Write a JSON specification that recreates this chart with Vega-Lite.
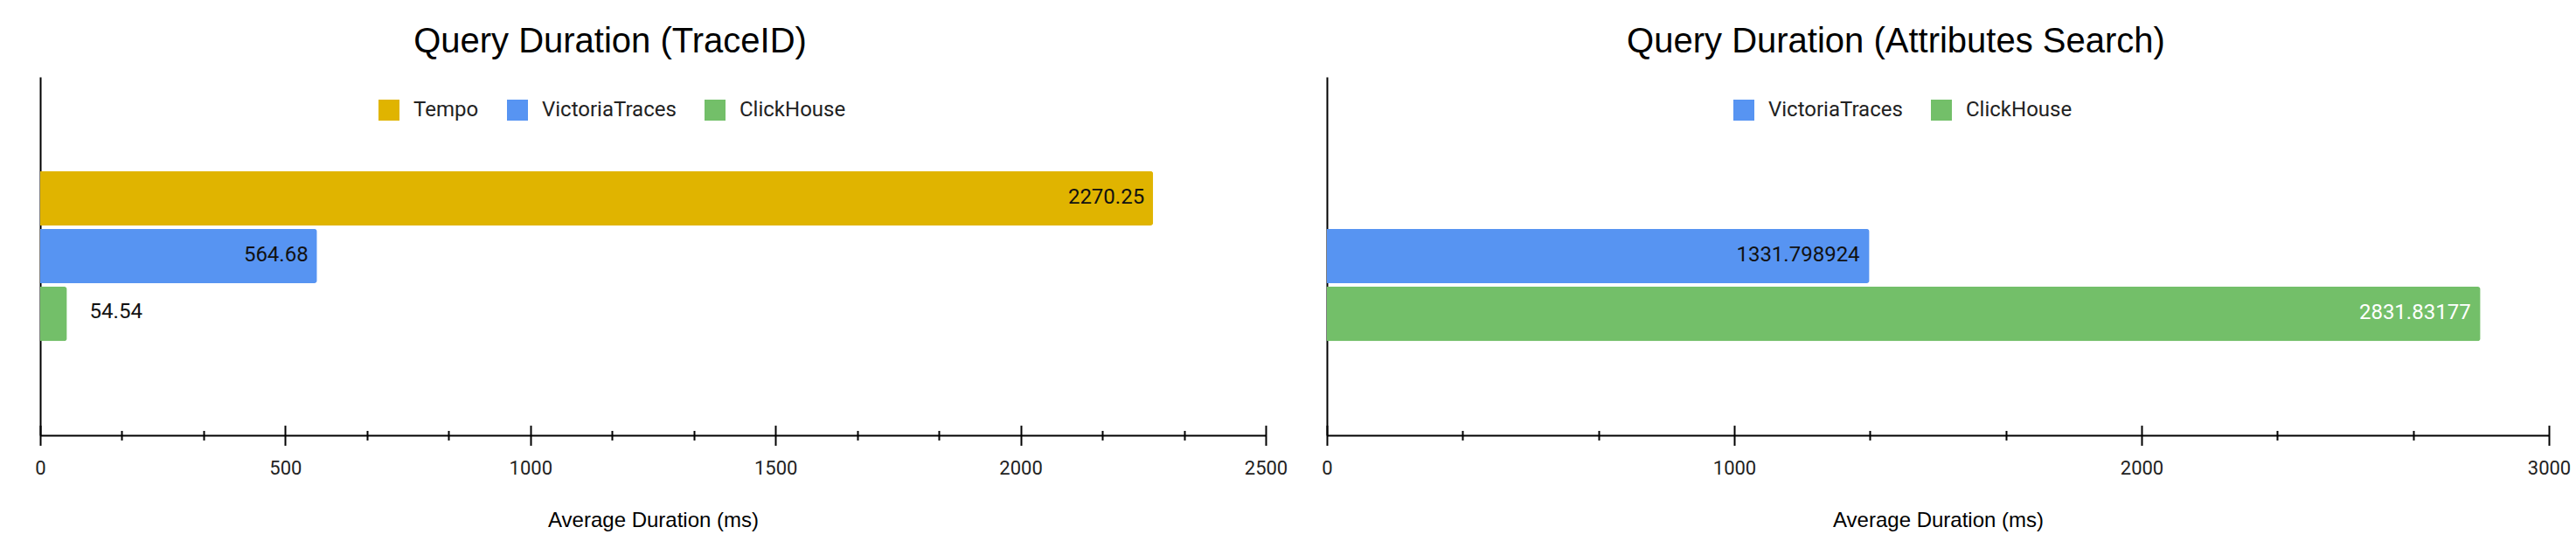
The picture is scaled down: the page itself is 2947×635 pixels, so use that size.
{
  "$schema": "https://vega.github.io/schema/vega-lite/v6.json",
  "background": "white",
  "padding": {"left": 39, "top": 28, "right": 5, "bottom": 5},
  "config": {"view": {"stroke": null}, "font": "Roboto"},
  "datasets": {
    "traceid": [
      {"system": "Tempo", "duration": 2270.25},
      {"system": "VictoriaTraces", "duration": 564.68},
      {"system": "ClickHouse", "duration": 54.54}
    ],
    "attrs": [
      {"system": "VictoriaTraces", "duration": 1331.798924},
      {"system": "ClickHouse", "duration": 2831.83177}
    ]
  },
  "bounds": "flush",
  "spacing": 70,
  "resolve": {"scale": {"color": "independent", "x": "independent"}, "legend": {"color": "independent"}},
  "hconcat": [
    {
      "width": 1402,
      "height": 410,
      "title": {"text": "Query Duration (TraceID)", "font": "Liberation Sans", "fontSize": 40, "fontWeight": "normal", "color": "#000", "dx": -49, "frame": "group", "anchor": "middle", "baseline": "alphabetic", "offset": -12},
      "data": {"name": "traceid"},
      "encoding": {
        "y": {"field": "system", "type": "nominal", "scale": {"domain": ["_top", "Tempo", "VictoriaTraces", "ClickHouse", "_bottom"], "paddingInner": 0.06, "paddingOuter": 0.63}, "axis": {"domain": true, "domainColor": "#000", "domainWidth": 2, "ticks": false, "labels": false, "title": null, "grid": false}}
      },
      "resolve": {"scale": {"x": "independent"}, "axis": {"x": "independent"}},
      "layer": [
        {
          "mark": {"type": "bar", "cornerRadiusEnd": 3},
          "encoding": {
            "x": {"field": "duration", "type": "quantitative", "scale": {"domain": [0, 2500], "nice": false}, "axis": {"orient": "bottom", "values": [0, 500, 1000, 1500, 2000, 2500], "format": "d", "domain": true, "domainColor": "#000", "domainWidth": 2, "ticks": false, "tickSize": 0, "labelFont": "Roboto", "labelFontSize": 22, "labelColor": "#222", "labelBaseline": "alphabetic", "labelPadding": 44, "labelFlush": false, "grid": false, "title": "Average Duration (ms)", "titleFont": "Liberation Sans", "titleFontSize": 24, "titleFontWeight": "normal", "titleColor": "#000", "titleBaseline": "alphabetic", "titleY": 104}},
            "color": {"field": "system", "type": "nominal", "scale": {"domain": ["Tempo", "VictoriaTraces", "ClickHouse"], "range": ["#E0B400", "#5794F2", "#73BF69"]}, "legend": {"orient": "none", "legendX": 387, "legendY": 26, "direction": "horizontal", "title": null, "symbolType": "square", "symbolSize": 576, "symbolStrokeWidth": 0, "symbolOpacity": 1, "labelFont": "Roboto", "labelFontSize": 24, "labelColor": "#222", "labelOffset": 16, "columnPadding": 32, "padding": 0}}
          }
        },
        {
          "transform": [{"filter": "datum.duration >= 200"}],
          "mark": {"type": "text", "align": "right", "baseline": "middle", "dx": -10, "dy": -1, "font": "Roboto", "fontSize": 24, "color": "#111"},
          "encoding": {
            "x": {"field": "duration", "type": "quantitative", "scale": {"domain": [0, 2500], "nice": false}, "axis": {"orient": "bottom", "values": [0, 500, 1000, 1500, 2000, 2500], "offset": -11.5, "tickSize": 23, "tickWidth": 2, "tickColor": "#000", "domain": false, "labels": false, "grid": false, "title": null}},
            "text": {"field": "duration", "type": "nominal"}
          }
        },
        {
          "transform": [{"filter": "datum.duration < 200"}],
          "mark": {"type": "text", "align": "left", "baseline": "middle", "dx": 26, "dy": -2, "font": "Roboto", "fontSize": 24, "color": "#111"},
          "encoding": {
            "x": {"field": "duration", "type": "quantitative", "scale": {"domain": [0, 2500], "nice": false}, "axis": {"orient": "bottom", "values": [166.67, 333.33, 666.67, 833.33, 1166.67, 1333.33, 1666.67, 1833.33, 2166.67, 2333.33], "offset": -5.5, "tickSize": 11, "tickWidth": 2, "tickColor": "#000", "domain": false, "labels": false, "grid": false, "title": null}},
            "text": {"field": "duration", "type": "nominal"}
          }
        }
      ]
    },
    {
      "width": 1398,
      "height": 410,
      "title": {"text": "Query Duration (Attributes Search)", "font": "Liberation Sans", "fontSize": 40, "fontWeight": "normal", "color": "#000", "dx": -48, "frame": "group", "anchor": "middle", "baseline": "alphabetic", "offset": -12},
      "data": {"name": "attrs"},
      "encoding": {
        "y": {"field": "system", "type": "nominal", "scale": {"domain": ["_top", "Tempo", "VictoriaTraces", "ClickHouse", "_bottom"], "paddingInner": 0.06, "paddingOuter": 0.63}, "axis": {"domain": true, "domainColor": "#000", "domainWidth": 2, "ticks": false, "labels": false, "title": null, "grid": false}}
      },
      "resolve": {"scale": {"x": "independent"}, "axis": {"x": "independent"}},
      "layer": [
        {
          "mark": {"type": "bar", "cornerRadiusEnd": 3},
          "encoding": {
            "x": {"field": "duration", "type": "quantitative", "scale": {"domain": [0, 3000], "nice": false}, "axis": {"orient": "bottom", "values": [0, 1000, 2000, 3000], "format": "d", "domain": true, "domainColor": "#000", "domainWidth": 2, "ticks": false, "tickSize": 0, "labelFont": "Roboto", "labelFontSize": 22, "labelColor": "#222", "labelBaseline": "alphabetic", "labelPadding": 44, "labelFlush": false, "grid": false, "title": "Average Duration (ms)", "titleFont": "Liberation Sans", "titleFontSize": 24, "titleFontWeight": "normal", "titleColor": "#000", "titleBaseline": "alphabetic", "titleY": 104}},
            "color": {"field": "system", "type": "nominal", "scale": {"domain": ["VictoriaTraces", "ClickHouse"], "range": ["#5794F2", "#73BF69"]}, "legend": {"orient": "none", "legendX": 465, "legendY": 26, "direction": "horizontal", "title": null, "symbolType": "square", "symbolSize": 576, "symbolStrokeWidth": 0, "symbolOpacity": 1, "labelFont": "Roboto", "labelFontSize": 24, "labelColor": "#222", "labelOffset": 16, "columnPadding": 32, "padding": 0}}
          }
        },
        {
          "transform": [{"filter": "datum.duration >= 200"}],
          "mark": {"type": "text", "align": "right", "baseline": "middle", "dx": -11, "dy": -1, "font": "Roboto", "fontSize": 24},
          "encoding": {
            "x": {"field": "duration", "type": "quantitative", "scale": {"domain": [0, 3000], "nice": false}, "axis": {"orient": "bottom", "values": [0, 1000, 2000, 3000], "offset": -11.5, "tickSize": 23, "tickWidth": 2, "tickColor": "#000", "domain": false, "labels": false, "grid": false, "title": null}},
            "text": {"field": "duration", "type": "nominal"},
            "color": {"condition": {"test": "datum.system === 'ClickHouse'", "value": "#ffffff"}, "value": "#111111"}
          }
        },
        {
          "mark": {"type": "text", "opacity": 0},
          "encoding": {
            "x": {"field": "duration", "type": "quantitative", "scale": {"domain": [0, 3000], "nice": false}, "axis": {"orient": "bottom", "values": [333.33, 666.67, 1333.33, 1666.67, 2333.33, 2666.67], "offset": -5.5, "tickSize": 11, "tickWidth": 2, "tickColor": "#000", "domain": false, "labels": false, "grid": false, "title": null}},
            "text": {"field": "duration", "type": "nominal"}
          }
        }
      ]
    }
  ]
}
